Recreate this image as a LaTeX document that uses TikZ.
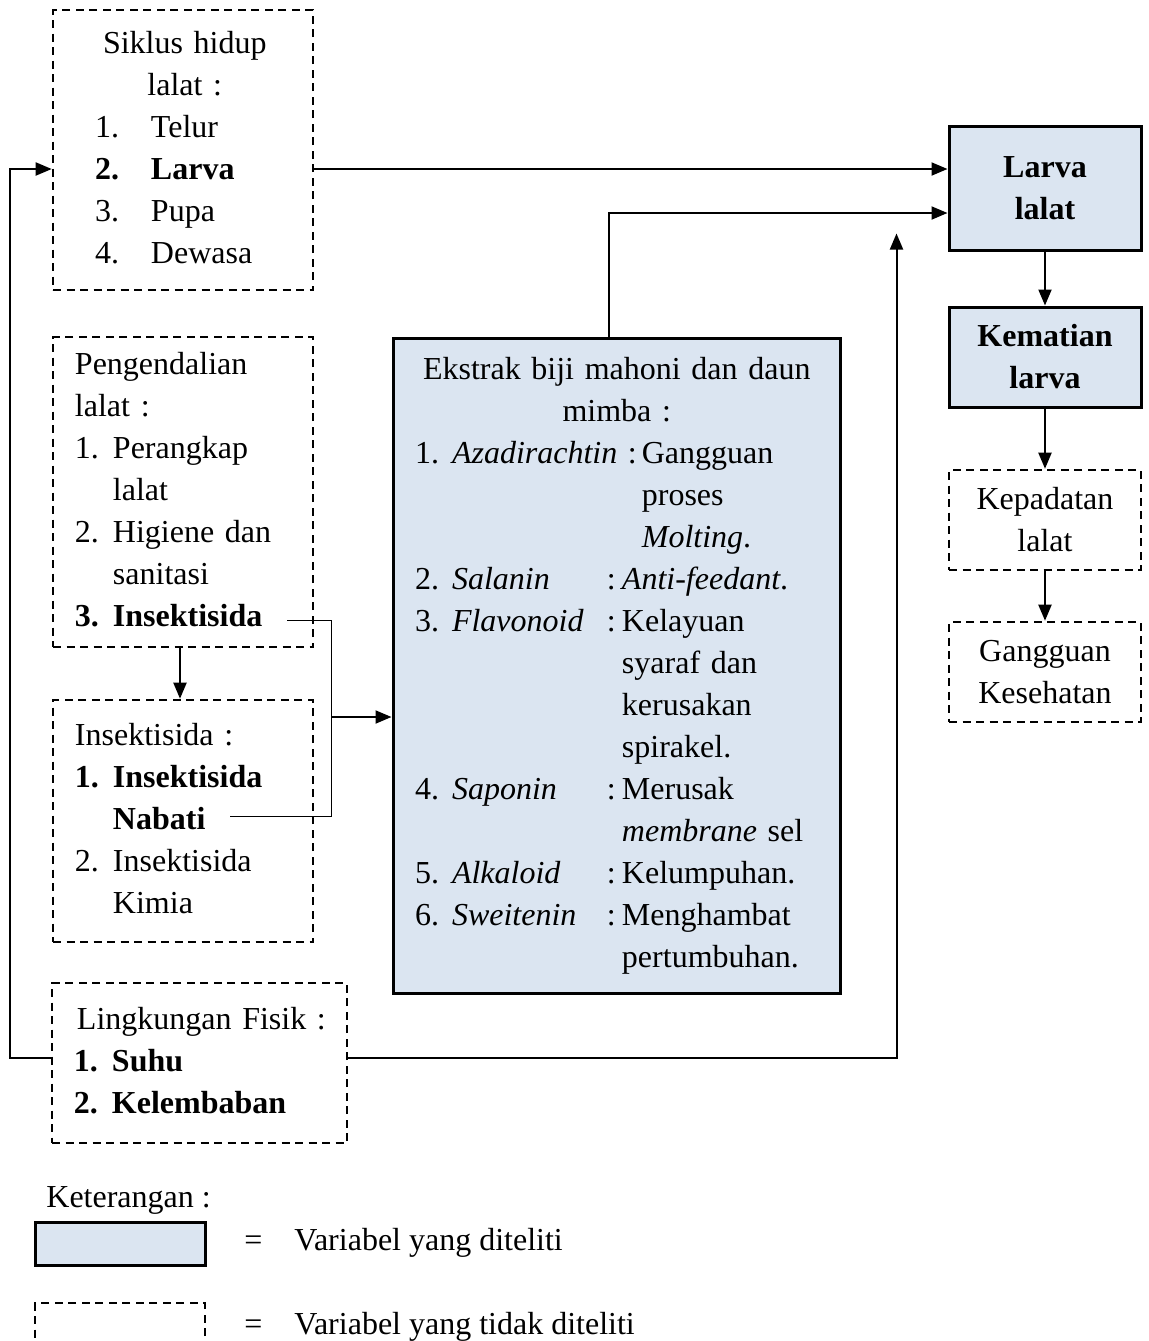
\documentclass[tikz,border=0pt]{standalone}
\usepackage{fontspec}
\setmainfont{Liberation Serif}
\usetikzlibrary{arrows.meta}
\definecolor{biru}{HTML}{DBE5F1}
\newcommand{\azad}{\textit{Azadirachtin} :\hspace{2.5pt}}

\begin{document}
\begin{tikzpicture}[x=0.5pt,y=-0.5pt,
    teks/.style={font=\fontsize{16}{21}\selectfont,inner sep=0pt},
    tebal/.style={font=\fontsize{16}{21}\selectfont\bfseries},
    putus/.style={teks,draw,line width=1.3pt,dash pattern=on 4pt off 2.75pt},
    teliti/.style={teks,draw,line width=1.5pt,fill=biru},
    panah/.style={line width=1pt,-{Triangle[length=8pt,width=6.5pt]}},
    garis/.style={line width=0.5pt}]
    \useasboundingbox (0,0) rectangle (1149,1341);
    % Siklus hidup
    \node[putus,minimum width=130pt,minimum height=140pt,text width=88pt,align=left,inner xsep=21pt] (siklus) at (183,150) {%
      \begin{tabular}{@{}p{28pt}@{}l@{}}
        \multicolumn{2}{@{\hspace{4pt}}c@{}}{Siklus hidup}\\
        \multicolumn{2}{@{\hspace{4pt}}c@{}}{lalat :}\\
        1. & Telur\\
        \textbf{2.} & \textbf{Larva}\\
        3. & Pupa\\
        4. & Dewasa
      \end{tabular}};
    % Pengendalian
    \node[putus,minimum width=130pt,minimum height=155pt,text width=108pt,align=left,inner xsep=11pt] (kendali) at (183,492) {%
      \begin{tabular}{@{}p{19pt}@{}l@{}}
        \multicolumn{2}{@{}l@{}}{Pengendalian}\\
        \multicolumn{2}{@{}l@{}}{lalat :}\\
        1. & Perangkap\\
           & lalat\\
        2. & Higiene dan\\
           & sanitasi\\
        \textbf{3.} & \textbf{Insektisida}
      \end{tabular}};
    % Insektisida
    \node[putus,minimum width=130pt,minimum height=121pt,text width=108pt,align=left,inner xsep=11pt] (insek) at (183,821) {%
      \begin{tabular}{@{}p{19pt}@{}l@{}}
        \multicolumn{2}{@{}l@{}}{Insektisida :}\\
        \textbf{1.} & \textbf{Insektisida}\\
           & \textbf{Nabati}\\
        2. & Insektisida\\
           & Kimia
      \end{tabular}};
    % Lingkungan fisik
    \node[putus,minimum width=146.5pt,minimum height=80pt,text width=125.5pt,align=left,inner xsep=11pt] (fisik) at (199.5,1063) {%
      \begin{tabular}{@{}p{19pt}@{}l@{}}
        \multicolumn{2}{@{\hspace{1.5pt}}l@{}}{Lingkungan Fisik :}\\
        \textbf{1.} & \textbf{Suhu}\\
        \textbf{2.} & \textbf{Kelembaban}
      \end{tabular}};
    % Ekstrak
    \node[teliti,minimum width=223.5pt,minimum height=327.5pt,text width=201.5pt,align=left,inner xsep=11pt] (ekstrak) at (616.5,665.5) {%
      \begin{tabular}{@{}p{18.5pt}@{}p{77.5pt}@{}p{7.5pt}@{}l@{}}
        \multicolumn{4}{@{\hspace{4pt}}c@{}}{Ekstrak biji mahoni dan daun}\\
        \multicolumn{4}{@{\hspace{4pt}}c@{}}{mimba :}\\
        1. & \multicolumn{3}{@{}l@{}}{\azad Gangguan}\\
           & \multicolumn{3}{@{}l@{}}{\phantom{\azad}proses}\\
           & \multicolumn{3}{@{}l@{}}{\phantom{\azad}\textit{Molting}.}\\
        2. & \textit{Salanin} & : & \textit{Anti-feedant}.\\
        3. & \textit{Flavonoid} & : & Kelayuan\\
           & & & syaraf dan\\
           & & & kerusakan\\
           & & & spirakel.\\
        4. & \textit{Saponin} & : & Merusak\\
           & & & \textit{membrane} sel\\
        5. & \textit{Alkaloid} & : & Kelumpuhan.\\
        6. & \textit{Sweitenin} & : & Menghambat\\
           & & & pertumbuhan.
      \end{tabular}};
    % Kolom kanan
    \node[teliti,tebal,minimum width=96pt,minimum height=62pt,align=center] (larva) at (1045,188) {Larva\\lalat};
    \node[teliti,tebal,minimum width=96pt,minimum height=50pt,align=center] (kematian) at (1045,357) {Kematian\\larva};
    \node[putus,minimum width=96pt,minimum height=50pt,align=center] (kepadatan) at (1045,520) {Kepadatan\\lalat};
    \node[putus,minimum width=96pt,minimum height=50pt,align=center] (gangguan) at (1045,672) {Gangguan\\Kesehatan};
    % Keterangan
    \node[teks,anchor=west] (ket) at (46,1200) {Keterangan :};
    \node[teliti,minimum width=85pt,minimum height=21.5pt] (lgteliti) at (120,1243.5) {};
    \node[teks,anchor=west] (lbteliti) at (244,1243) {=\hspace{16pt}Variabel yang diteliti};
    \node[putus,minimum width=85pt,minimum height=26pt] (lgtidak) at (120,1329) {};
    \node[teks,anchor=west] (lbtidak) at (244,1327) {=\hspace{16pt}Variabel yang tidak diteliti};
    % Panah
    \coordinate (in1) at ([yshift=9.5pt]larva.west);
    \coordinate (in2) at ([yshift=-12.5pt]larva.west);
    \coordinate (naik) at ([xshift=-25.5pt,yshift=9pt]larva.south west);
    \draw[panah] (siklus.east |- in1) -- (in1);
    \draw[panah] ([xshift=-3.75pt]ekstrak.north) |- (in2);
    \draw[panah] ([yshift=2.5pt]fisik.west) -- ++(-41,0) |- (siklus.west |- in1);
    \draw[panah] ([yshift=2.5pt]fisik.east) -| (naik);
    \draw[panah] ([xshift=-1.5pt]kendali.south) -- ([xshift=-1.5pt]insek.north);
    \draw[panah] (larva.south) -- (kematian.north);
    \draw[panah] (kematian.south) -- (kepadatan.north);
    \draw[panah] (kepadatan.south) -- (gangguan.north);
    % Kurung insektisida
    \coordinate (k1) at (287,620);
    \coordinate (k2) at (230,816);
    \coordinate (kt) at (331,717);
    \draw[garis] (k1) -- (k1 -| kt) -- (k2 -| kt) -- (k2);
    \draw[panah] (kt) -- (ekstrak.west |- kt);
\end{tikzpicture}
\end{document}
